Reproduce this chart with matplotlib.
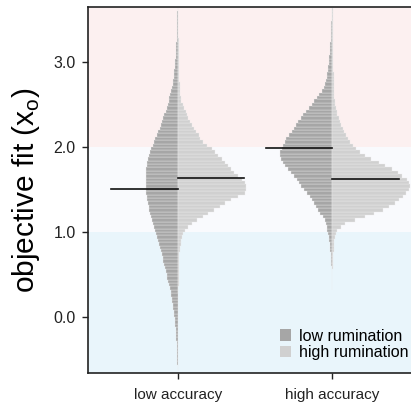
import numpy as np
import matplotlib
matplotlib.use("Agg")
import matplotlib.pyplot as plt
from matplotlib.patches import Patch

plt.rcParams['font.family'] = ['Liberation Sans', 'DejaVu Sans']

# histogram bins of objective fit (x_o), width 0.04
bin_w = 0.04

# low accuracy, low rumination (first bin centre -0.62)
la_low_start = -0.62
la_low = [3, 4, 5, 6, 7, 8, 9, 11, 13, 15,
          17, 19, 21, 25, 29, 33, 37, 41, 45, 50,
          54, 58, 64, 72, 80, 88, 96, 104, 112, 120,
          128, 136, 143, 150, 158, 169, 180, 187, 194, 205,
          218, 230, 237, 245, 255, 265, 275, 282, 290, 296,
          303, 309, 314, 320, 320, 320, 319, 317, 315, 312,
          308, 303, 297, 286, 275, 263, 250, 237, 225, 210,
          194, 181, 168, 155, 143, 133, 123, 113, 103, 93,
          84, 76, 68, 60, 51, 47, 43, 39, 34, 30,
          28, 25, 23, 21, 18, 17, 15, 13, 12, 10,
          9, 8, 8, 7, 6, 5, 4]

# low accuracy, high rumination (first bin centre 0.30)
la_high_start = 0.30
la_high = [5, 5, 6, 6, 7, 8, 8, 9, 10, 11,
           12, 14, 16, 20, 26, 33, 40, 53, 73, 100,
           140, 190, 250, 300, 360, 420, 470, 530, 590, 660,
           670, 670, 660, 630, 590, 560, 530, 495, 465, 435,
           400, 365, 335, 290, 250, 220, 205, 180, 160, 140,
           120, 103, 90, 75, 60, 48, 33, 27, 23, 20,
           18, 16, 14, 12, 10, 9, 8, 8, 7, 7,
           7, 6, 6, 6, 6, 5, 5, 5, 4, 4,
           4, 4, 3, 3]

# high accuracy, low rumination (first bin centre 0.34)
ha_low_start = 0.34
ha_low = [3, 4, 5, 6, 7, 8, 9, 10, 11, 14,
          17, 20, 23, 28, 33, 38, 44, 50, 58, 65,
          75, 90, 120, 140, 160, 180, 200, 225, 255, 285,
          310, 330, 355, 385, 415, 440, 465, 490, 510, 520,
          515, 500, 485, 470, 455, 430, 405, 385, 365, 340,
          310, 290, 265, 235, 205, 180, 155, 130, 108, 88,
          70, 62, 56, 50, 46, 42, 38, 35, 32, 29,
          26, 23, 21, 19, 17, 15, 14, 12, 11, 9,
          8, 7, 6]

# high accuracy, high rumination (first bin centre 0.58)
ha_high_start = 0.58
ha_high = [4, 5, 7, 9, 10, 12, 15, 18, 20, 27,
           36, 50, 85, 120, 220, 320, 410, 500, 560, 620,
           660, 700, 730, 760, 770, 760, 735, 690, 645, 590,
           525, 460, 385, 325, 270, 235, 200, 175, 155, 135,
           115, 100, 85, 70, 60, 50, 42, 34, 27, 21,
           19, 17, 16, 15, 14, 13, 12, 11, 10, 10,
           9, 8, 8, 8, 7, 7, 7, 6, 6, 6,
           5, 5, 5, 5, 4, 4, 4]

# mean objective fit per group (low rum, high rum)
la_means = [1.51, 1.63]
ha_means = [1.99, 1.62]

groups = ['low accuracy', 'high accuracy']
group_pos = [1, 2]
rum_labels = ['low rumination', 'high rumination']

dark = '#a6a6a6'
light = '#d0d0d0'
scale = 1.0 / 1530.0
mean_half = 0.43

fig = plt.figure(figsize=(4.11, 4.04), dpi=100)
ax = fig.add_axes([88 / 411, 31 / 404, 1 - 88 / 411 + 0.01, 366 / 404])

ylo, yhi = -0.66, 3.647
ax.axhspan(2.0, yhi, color='#fcf0f0', lw=0, zorder=0)
ax.axhspan(1.0, 2.0, color='#f9fafd', lw=0, zorder=0)
ax.axhspan(ylo, 1.0, color='#e9f5fb', lw=0, zorder=0)


def draw_half(x0, start, counts, color, side):
    counts = np.array(counts, dtype=float)
    centers = start + bin_w * np.arange(len(counts))
    lengths = counts * scale
    left = x0 - lengths if side < 0 else np.full(len(counts), x0)
    ax.barh(centers, lengths, height=bin_w, left=left, color=color,
            edgecolor='#eeeeee', linewidth=0.25, zorder=2)


series = [(la_low_start, la_low, la_high_start, la_high, la_means),
          (ha_low_start, ha_low, ha_high_start, ha_high, ha_means)]

for x0, (s_lo, c_lo, s_hi, c_hi, means) in zip(group_pos, series):
    draw_half(x0, s_lo, c_lo, dark, -1)
    draw_half(x0, s_hi, c_hi, light, 1)
    ax.plot([x0 - mean_half, x0], [means[0]] * 2, color='#111111', lw=1.2, zorder=3)
    ax.plot([x0, x0 + mean_half], [means[1]] * 2, color='#111111', lw=1.2, zorder=3)

ax.set_xlim(0.418, 2.535)
ax.set_ylim(ylo, yhi)
ax.set_xticks(group_pos)
ax.set_xticklabels(groups, fontsize=11)
ax.set_yticks([0, 1, 2, 3])
ax.set_yticklabels(['0.0', '1.0', '2.0', '3.0'], fontsize=11.5)
ax.tick_params(axis='both', direction='out', length=4, width=1, colors='#222222')
ax.tick_params(axis='x', pad=7)
ax.tick_params(axis='y', pad=5)
ax.set_ylabel('objective fit (x$_{\\mathregular{o}}$)', fontsize=21.5, labelpad=8)
ax.spines['right'].set_visible(False)
for s in ['left', 'bottom', 'top']:
    ax.spines[s].set_linewidth(1.2)
    ax.spines[s].set_color('#222222')

handles = [Patch(facecolor=dark, edgecolor='none'), Patch(facecolor=light, edgecolor='none')]
ax.legend(handles, rum_labels, loc='lower right', frameon=False, fontsize=11.5,
          handlelength=0.7, handleheight=0.7, handletextpad=0.5, labelspacing=0.1,
          borderaxespad=0.4, bbox_to_anchor=(1.02, 0.0))

fig.savefig('out.png', dpi=100)
